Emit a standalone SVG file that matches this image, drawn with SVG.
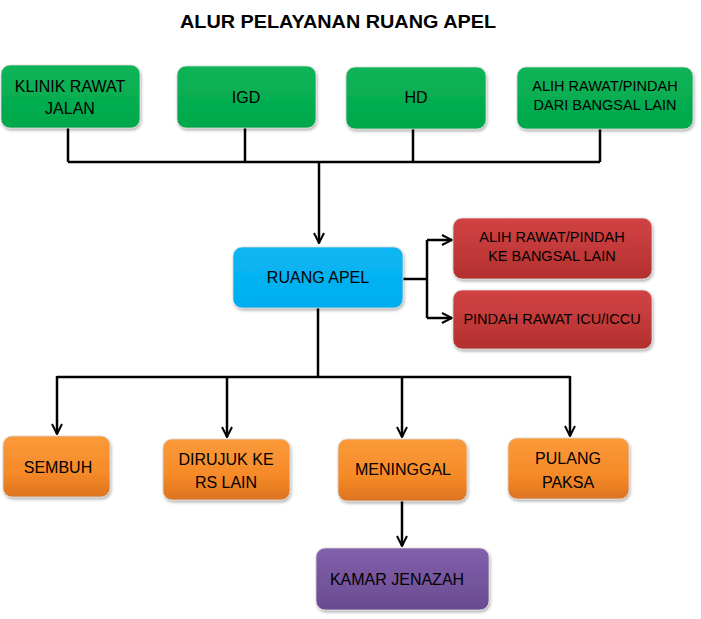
<svg xmlns="http://www.w3.org/2000/svg" width="701" height="619" viewBox="0 0 701 619">
<defs>
<linearGradient id="gGreen" x1="0" y1="0" x2="0" y2="1"><stop offset="0" stop-color="#0DB458"/><stop offset="1" stop-color="#00A84A"/></linearGradient>
<linearGradient id="gBlue" x1="0" y1="0" x2="0" y2="1"><stop offset="0" stop-color="#0BB6F2"/><stop offset="1" stop-color="#00AEEF"/></linearGradient>
<linearGradient id="gRed" x1="0" y1="0" x2="0" y2="1"><stop offset="0" stop-color="#D24344"/><stop offset="1" stop-color="#B3302F"/></linearGradient>
<linearGradient id="gOrange" x1="0" y1="0" x2="0" y2="1"><stop offset="0" stop-color="#FB9A3A"/><stop offset="0.6" stop-color="#F58A28"/><stop offset="1" stop-color="#DE7320"/></linearGradient>
<linearGradient id="gPurple" x1="0" y1="0" x2="0" y2="1"><stop offset="0" stop-color="#8260AA"/><stop offset="1" stop-color="#6A4B92"/></linearGradient>
<filter id="sh" x="-10%" y="-10%" width="125%" height="135%"><feDropShadow dx="1" dy="2" stdDeviation="1.5" flood-color="#000" flood-opacity="0.3"/></filter>
<marker id="arr" viewBox="0 0 12 12" refX="11" refY="6" markerWidth="12" markerHeight="12" markerUnits="userSpaceOnUse" orient="auto"><path d="M1,1 L11,6 L1,11" fill="none" stroke="#000" stroke-width="2"/></marker>
</defs>
<style>
.box{filter:url(#sh);stroke:#d8d8d8;stroke-width:0.8}
.t{font-family:"Liberation Sans",Arial,sans-serif;font-size:16px;fill:#000;text-anchor:middle;dominant-baseline:central}
.s{font-size:14.5px}
.ln{fill:none;stroke:#000;stroke-width:2.5}
.title{font-family:"Liberation Sans",Arial,sans-serif;font-size:19px;font-weight:bold;text-anchor:middle}
</style>
<rect width="701" height="619" fill="#fff"/>
<text class="title" x="338" y="28" textLength="316" lengthAdjust="spacingAndGlyphs">ALUR PELAYANAN RUANG APEL</text>

<g id="connectors">
<path class="ln" d="M68,128 V162 M245,128 V162 M413,129 V162 M600,129 V162 M68,162 H600"/>
<path class="ln" d="M319,162 V243" marker-end="url(#arr)"/>
<path class="ln" d="M403,279 H427 M427,240 V318"/>
<path class="ln" d="M427,240 H452" marker-end="url(#arr)"/>
<path class="ln" d="M427,318 H452" marker-end="url(#arr)"/>
<path class="ln" d="M318,308 V377 M57,377 H570"/>
<path class="ln" d="M57,376 V434" marker-end="url(#arr)"/>
<path class="ln" d="M227,376 V437" marker-end="url(#arr)"/>
<path class="ln" d="M402,376 V437" marker-end="url(#arr)"/>
<path class="ln" d="M570,376 V436" marker-end="url(#arr)"/>
<path class="ln" d="M402,501 V546" marker-end="url(#arr)"/>
</g>

<g id="klinik"><rect class="box" x="1" y="65" width="139" height="63" rx="9" fill="url(#gGreen)"/>
<text class="t" x="70" y="86">KLINIK RAWAT</text><text class="t" x="70" y="108">JALAN</text></g>
<g id="igd"><rect class="box" x="177" y="66" width="139" height="62" rx="9" fill="url(#gGreen)"/>
<text class="t" x="246" y="97">IGD</text></g>
<g id="hd"><rect class="box" x="346" y="67" width="140" height="62" rx="9" fill="url(#gGreen)"/>
<text class="t" x="416" y="97">HD</text></g>
<g id="alih-dari"><rect class="box" x="517" y="67" width="176" height="62" rx="9" fill="url(#gGreen)"/>
<text class="t s" x="605" y="86">ALIH RAWAT/PINDAH</text><text class="t s" x="605" y="105">DARI BANGSAL LAIN</text></g>

<g id="ruang-apel"><rect class="box" x="233" y="247" width="170" height="61" rx="9" fill="url(#gBlue)"/>
<text class="t" x="318" y="277">RUANG APEL</text></g>

<g id="alih-ke"><rect class="box" x="453" y="218" width="199" height="61" rx="9" fill="url(#gRed)"/>
<text class="t s" x="552" y="237">ALIH RAWAT/PINDAH</text><text class="t s" x="552" y="256">KE BANGSAL LAIN</text></g>
<g id="icu"><rect class="box" x="453" y="290" width="199" height="59" rx="9" fill="url(#gRed)"/>
<text class="t s" x="552" y="319">PINDAH RAWAT ICU/ICCU</text></g>

<g id="sembuh"><rect class="box" x="3" y="436" width="107" height="61" rx="9" fill="url(#gOrange)"/>
<text class="t" x="58" y="467">SEMBUH</text></g>
<g id="dirujuk"><rect class="box" x="163" y="439" width="127" height="61" rx="9" fill="url(#gOrange)"/>
<text class="t" x="226" y="459">DIRUJUK KE</text><text class="t" x="226" y="482">RS LAIN</text></g>
<g id="meninggal"><rect class="box" x="338" y="439" width="129" height="62" rx="9" fill="url(#gOrange)"/>
<text class="t" x="403" y="469">MENINGGAL</text></g>
<g id="pulang"><rect class="box" x="508" y="438" width="121" height="61" rx="9" fill="url(#gOrange)"/>
<text class="t" x="568" y="458">PULANG</text><text class="t" x="568" y="482">PAKSA</text></g>

<g id="kamar"><rect class="box" x="316" y="548" width="173" height="62" rx="9" fill="url(#gPurple)"/>
<text class="t" x="397" y="579">KAMAR JENAZAH</text></g>
</svg>
